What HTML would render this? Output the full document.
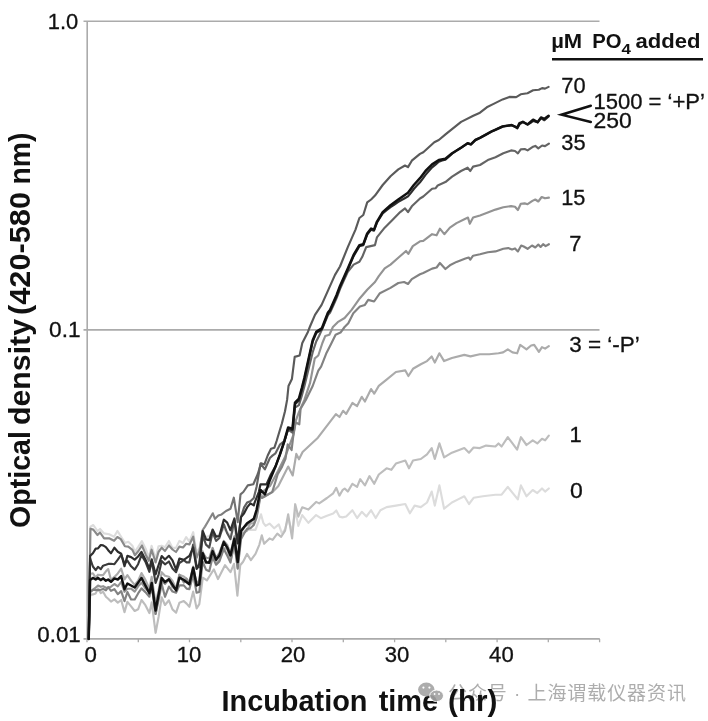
<!DOCTYPE html>
<html lang="zh"><head><meta charset="utf-8"><title>Growth curves</title>
<style>html,body{margin:0;padding:0;background:#fff}body{width:708px;height:721px;position:relative;overflow:hidden}</style></head>
<body>
<svg width="708" height="721" viewBox="0 0 708 721" style="position:absolute;left:0;top:0">
<rect width="708" height="721" fill="#fff"/>
<defs><linearGradient id="g70" gradientUnits="userSpaceOnUse" x1="205" y1="0" x2="268" y2="0"><stop offset="0" stop-color="#8a8a8a"/><stop offset="1" stop-color="#5a5a5a"/></linearGradient><linearGradient id="g35" gradientUnits="userSpaceOnUse" x1="170" y1="0" x2="255" y2="0"><stop offset="0" stop-color="#3a3a3a"/><stop offset="1" stop-color="#646464"/></linearGradient></defs>
<g stroke="#ababab" stroke-width="1.6" fill="none">
<path d="M83.5,21.2 H599.5 M83.5,329.9 H599.5 M83.5,638.9 H599.8 M87.2,20.4 V639.7"/>
<path d="M87.0,638.9 v3.4 M138.3,638.9 v3.4 M189.5,638.9 v3.4 M240.8,638.9 v3.4 M292.0,638.9 v3.4 M343.3,638.9 v3.4 M394.6,638.9 v3.4 M445.8,638.9 v3.4 M497.1,638.9 v3.4 M548.3,638.9 v3.4 M599.6,638.9 v3.4" stroke-width="1.3"/>
</g>
<g fill="none" stroke-linejoin="round" stroke-linecap="round">
<path d="M88.7,638.9 L90.4,526.7 93.3,525.0 97.5,531.0 100.0,529.0 104.1,533.4 109.1,534.3 114.1,536.8 117.4,530.9 120.8,536.3 124.9,542.9 128.3,541.8 132.4,545.7 134.9,551.8 138.4,546.7 141.9,541.2 146.0,549.5 148.8,557.5 151.6,545.8 155.6,558.8 158.5,546.2 161.7,545.7 165.0,547.2 168.9,541.0 172.5,547.9 176.0,547.9 179.4,540.9 183.0,543.0 186.2,537.1 189.4,541.7 193.2,532.2 196.6,552.8 199.5,548.0 202.7,534.0 206.0,537.0 209.3,536.0 212.6,531.0 216.0,537.0 219.4,534.0 223.8,529.0 227.2,532.0 230.5,536.0 234.4,528.0 237.7,548.0 241.0,528.0 245.0,531.0 249.3,529.8 255.5,529.8 258.6,521.3 261.0,514.3 263.3,522.8 265.6,525.9 269.5,523.6 274.2,528.3 278.8,524.4 282.0,533.7 285.1,529.0 288.2,518.2 292.1,532.1 295.2,510.4 298.3,525.9 302.2,515.1 308.4,522.8 316.1,515.1 320.8,518.2 327.0,515.8 333.2,513.5 336.3,510.4 339.4,516.6 342.5,517.4 346.2,516.5 352.4,510.2 357.1,518.0 361.8,511.8 366.4,516.5 371.1,510.2 375.7,518.0 380.4,510.2 386.6,507.1 395.9,505.6 405.3,504.0 409.9,513.3 414.6,505.6 420.8,507.1 427.0,502.5 431.7,491.6 434.8,505.6 439.4,485.4 444.1,508.7 451.9,502.5 458.1,499.4 464.3,496.3 469.0,504.0 473.6,497.8 482.9,496.3 495.4,494.7 501.6,494.7 507.8,486.9 514.0,494.7 517.8,499.4 520.9,485.4 526.5,496.3 532.7,490.0 537.3,493.1 542.0,488.5 545.1,491.6 548.8,488.5" stroke="#dcdcdc" stroke-width="2.15"/>
<path d="M88.7,638.9 L90.1,595.0 92.9,594.4 95.7,593.4 98.0,588.4 100.8,593.1 103.1,591.8 105.9,596.8 108.2,598.8 111.0,601.6 114.4,599.4 117.8,602.6 121.2,600.0 124.5,612.1 127.4,601.9 131.1,606.4 134.7,611.0 138.1,609.3 141.5,600.0 145.4,605.2 149.4,613.1 151.7,602.4 155.6,632.8 158.6,616.9 161.7,597.4 165.0,605.0 168.9,600.3 172.5,609.4 176.1,612.7 179.4,602.8 183.8,601.1 186.6,603.6 189.4,606.8 193.2,591.6 196.6,608.4 199.3,604.1 202.8,577.7 206.9,580.4 213.9,569.3 218.0,579.1 225.0,565.2 230.5,572.1 234.0,563.8 237.4,595.7 240.2,565.2 243.1,561.7 247.0,553.9 250.9,560.1 255.5,553.9 259.4,544.6 261.8,535.3 264.1,543.8 269.5,538.4 272.6,539.9 277.3,533.7 281.2,536.8 285.1,530.6 288.2,514.3 292.1,538.4 295.2,504.2 298.3,516.6 302.2,507.3 308.4,509.6 316.1,501.9 319.2,503.4 327.0,498.0 333.2,493.3 336.3,487.9 339.4,495.6 342.5,490.2 344.7,488.5 347.8,491.6 352.4,483.8 357.1,486.9 360.2,479.2 364.9,485.4 369.5,476.1 374.2,483.8 378.8,474.5 386.6,468.3 391.3,469.8 395.9,463.6 405.3,460.5 409.0,468.3 413.0,460.5 420.8,459.0 427.0,454.3 431.7,448.1 434.8,459.0 439.4,443.4 444.1,457.4 451.9,452.7 464.3,448.1 469.0,452.7 473.6,447.5 479.8,448.1 486.1,445.6 495.4,446.5 498.5,443.4 501.6,446.5 507.8,437.2 512.5,443.4 517.1,449.6 520.9,437.2 526.5,445.0 532.7,440.3 537.3,443.4 542.0,438.8 545.1,440.3 548.8,435.7" stroke="#bdbdbd" stroke-width="2.15"/>
<path d="M88.7,638.9 L90.1,574.0 92.9,573.3 95.7,577.5 98.0,574.7 100.8,575.1 103.1,575.1 105.9,571.3 108.2,569.1 111.0,580.0 114.4,576.9 117.8,573.4 121.2,568.7 124.5,579.3 127.4,575.1 131.1,580.6 134.7,584.9 138.1,580.6 141.5,573.1 145.4,579.9 149.4,588.8 151.7,576.8 155.6,603.6 158.6,590.4 161.7,572.2 165.0,575.7 168.9,576.7 172.5,581.0 176.1,588.8 179.4,574.8 183.8,576.6 186.6,578.9 189.4,582.5 193.2,566.6 196.6,583.8 199.3,583.8 202.7,551.4 206.0,563.1 209.3,561.4 212.6,552.7 216.1,563.3 219.4,559.9 223.8,548.1 227.2,549.0 230.5,560.6 234.4,545.0 237.7,568.2 241.0,534.5 244.1,532.4 247.1,530.5 250.4,523.1 253.8,523.6 256.6,515.8 260.5,494.1 263.8,497.0 272.8,491.7 278.2,486.3 288.2,466.5 292.7,475.5 296.3,453.9 299.0,459.3 302.6,452.0 317.9,437.7 335.9,414.2 339.5,417.0 343.1,410.8 346.2,413.9 352.4,403.0 357.1,406.1 361.8,396.8 364.9,401.5 371.1,389.0 374.2,393.7 378.8,385.9 386.6,379.7 395.9,372.0 405.3,370.4 408.4,376.0 413.0,368.8 420.8,364.2 427.0,361.1 431.7,356.4 434.8,362.6 439.4,353.3 444.1,361.1 451.9,358.0 464.3,354.9 470.5,356.4 479.8,354.2 489.2,354.2 498.5,353.3 503.1,352.4 507.8,349.3 512.5,352.4 517.1,353.3 520.2,344.9 526.5,349.3 531.1,345.5 534.2,344.9 538.9,351.8 542.0,347.1 545.1,348.6 548.8,346.2" stroke="#ababab" stroke-width="2.15"/>
<path d="M88.7,638.9 L90.1,592.0 92.9,589.6 95.7,587.6 98.0,585.5 100.8,586.8 103.1,586.2 105.9,587.7 108.2,587.7 111.0,586.7 114.4,584.0 117.8,586.3 121.2,581.9 124.5,591.8 127.4,588.8 131.1,588.7 134.7,591.6 138.1,586.3 141.5,582.7 145.4,588.4 149.4,592.8 151.7,583.3 155.6,613.9 158.6,596.0 161.7,581.5 165.0,584.0 168.9,579.3 172.5,587.2 176.1,589.6 179.4,574.7 183.8,582.6 186.6,578.6 189.4,584.3 193.2,567.8 196.6,584.0 199.3,579.8 202.7,552.7 206.0,557.7 209.3,558.2 212.6,547.9 216.1,558.2 219.4,552.9 223.8,540.9 227.2,545.0 230.5,553.7 234.4,536.3 237.7,561.2 241.0,532.0 244.1,527.2 247.1,524.9 250.4,521.5 253.8,519.8 256.6,511.6 260.5,490.7 262.0,492.0 270.0,486.0 278.0,471.0 285.0,457.0 290.0,444.0 293.0,436.0 296.0,420.0 299.0,412.0 304.4,399.9 310.0,383.2 314.8,358.3 318.3,355.5 322.4,343.0 325.2,336.1 329.4,334.7 332.9,327.0 337.7,322.2 344.6,318.0 351.6,309.9 359.9,298.2 367.2,289.8 375.0,282.0 378.8,276.2 384.7,268.4 390.5,264.6 398.3,257.8 406.0,251.0 408.3,253.9 412.8,246.1 420.0,241.3 423.3,240.9 432.1,234.2 436.6,235.3 439.9,228.7 444.3,234.2 449.9,227.6 456.5,223.1 465.4,218.7 468.0,217.6 469.8,223.8 473.1,217.6 480.0,215.4 487.8,212.5 495.5,209.6 503.3,207.3 511.1,206.1 515.0,206.7 517.9,210.0 520.8,203.8 524.7,203.4 527.6,204.2 532.4,200.9 535.3,199.5 538.3,201.5 541.7,197.0 545.0,198.3 548.9,197.6" stroke="#939393" stroke-width="2.15"/>
<path d="M88.7,638.9 L90.1,592.0 92.9,590.0 95.7,590.0 98.0,590.1 100.8,589.7 103.1,588.9 105.9,590.4 108.2,587.2 111.0,590.8 114.4,589.2 117.8,594.2 121.2,591.1 124.5,601.2 127.4,592.0 131.1,599.4 134.7,599.5 138.1,593.4 141.5,588.4 145.4,592.1 149.4,596.7 151.7,585.8 155.6,614.0 158.6,600.0 161.7,583.9 165.0,596.8 168.9,586.6 172.5,591.5 176.1,592.7 179.4,585.3 183.8,585.4 186.6,588.6 189.4,589.1 193.2,574.8 196.6,592.7 199.3,592.0 202.7,561.7 206.0,569.7 209.3,571.2 212.6,557.1 216.1,564.7 219.4,561.4 223.8,549.0 227.2,555.5 230.5,562.6 234.4,542.2 237.7,568.6 241.0,539.3 244.1,533.5 247.1,528.9 250.4,528.2 253.8,525.0 256.6,517.6 260.5,496.4 262.0,498.0 264.4,496.5 272.2,492.1 277.7,474.3 282.1,466.6 285.5,458.8 287.7,444.4 291.6,450.0 293.2,436.7 295.6,422.5 299.3,424.3 300.6,408.7 305.8,399.9 312.7,386.0 318.3,370.7 321.1,366.6 326.6,352.7 330.8,344.4 335.6,334.7 340.5,332.6 344.6,327.0 348.3,323.2 353.3,313.2 359.9,306.5 364.9,304.9 368.2,299.9 374.1,301.5 379.9,293.2 390.5,287.9 398.3,283.0 404.1,282.0 408.0,284.0 411.8,279.1 420.0,274.3 423.3,273.0 432.1,268.6 436.6,267.5 439.9,263.0 445.4,269.0 449.9,265.3 456.5,261.9 465.4,258.6 468.7,257.5 470.3,259.7 473.1,255.7 480.0,254.3 487.8,252.3 495.5,251.4 503.3,248.8 508.2,248.1 512.0,249.4 515.0,248.4 517.9,251.4 521.2,245.5 523.7,246.5 527.6,248.8 532.0,245.5 535.3,247.5 538.3,244.6 540.6,246.9 543.1,244.2 545.6,246.1 548.9,244.2" stroke="#828282" stroke-width="2.15"/>
<path d="M88.7,638.9 L90.1,558.3 92.9,566.5 95.7,570.1 98.0,566.8 100.8,569.2 103.1,565.7 105.9,564.8 108.2,563.9 111.0,563.8 114.4,564.2 117.8,559.7 121.2,554.8 124.5,563.9 127.4,560.6 131.1,566.3 134.7,569.6 138.1,564.2 141.5,555.2 145.4,561.7 149.4,571.8 151.7,560.7 155.6,582.9 158.6,574.6 161.7,561.0 165.0,564.3 168.9,561.5 172.5,568.4 176.1,572.2 179.4,563.0 183.8,560.1 186.6,562.3 189.4,562.3 193.2,544.6 196.6,566.4 199.3,567.4 202.7,535.3 206.0,544.6 209.3,547.6 212.6,532.3 216.1,540.9 219.4,538.0 223.8,524.2 227.2,533.3 230.5,539.1 234.4,520.3 237.7,543.4 241.0,517.1 244.1,507.4 247.1,502.6 250.4,501.2 253.8,497.9 256.6,486.8 260.5,463.5 264.9,469.3 269.9,458.0 272.7,455.4 275.5,453.3 279.9,444.7 284.3,441.2 288.1,429.6 292.5,432.7 295.0,407.5 298.9,405.1 301.8,395.6 304.4,386.2 309.3,366.0 312.7,352.2 316.2,341.5 319.0,336.0 321.8,329.9 323.8,325.1 328.0,315.1 330.0,312.9 333.3,305.5 336.6,298.0 340.0,289.1 343.9,280.4 347.8,271.8 353.6,264.6 359.4,261.7 362.3,256.8 366.2,247.1 375.0,245.1 376.9,237.4 384.7,227.7 392.4,219.9 400.2,212.1 405.0,208.3 408.0,212.1 411.8,206.3 420.0,198.5 423.3,196.5 432.1,188.8 435.5,188.3 437.7,185.5 445.4,182.1 452.1,176.6 461.0,171.0 467.6,167.7 470.3,171.0 473.1,166.6 480.0,165.0 487.8,160.1 495.5,157.2 503.3,153.3 511.1,150.4 515.0,151.0 517.9,153.3 520.8,149.4 524.7,149.0 527.6,150.4 532.4,147.1 535.3,145.9 538.3,148.4 542.1,145.5 545.0,146.1 548.9,143.6" stroke="url(#g35)" stroke-width="2.15"/>
<path d="M88.7,638.9 L90.4,528.7 93.3,529.6 97.5,535.0 100.0,532.5 104.1,538.3 109.1,538.3 114.1,540.8 117.4,537.0 120.8,539.1 124.9,546.2 128.3,546.6 132.4,549.9 134.9,555.2 138.4,551.0 141.9,545.5 146.0,555.2 148.8,560.8 151.6,549.7 155.6,562.5 158.5,552.0 161.7,547.7 165.0,551.0 168.9,545.5 172.5,549.5 176.0,552.0 179.4,546.6 183.0,547.5 186.2,543.8 189.4,544.4 193.2,536.7 196.6,557.7 199.5,551.0 202.7,530.0 205.0,526.6 208.3,521.0 212.8,513.3 215.0,518.8 218.3,515.5 221.6,514.4 226.0,511.0 230.5,508.8 233.8,497.7 237.7,522.1 240.5,494.4 243.3,492.0 247.8,485.4 253.3,484.3 257.7,474.3 261.1,463.3 264.4,464.4 267.7,455.5 271.0,448.8 274.4,447.7 276.6,441.0 279.9,430.0 281.8,423.7 285.0,411.2 287.1,399.9 288.5,386.0 291.9,379.1 294.7,356.9 299.6,355.5 302.3,343.0 307.9,331.9 310.0,326.5 315.0,314.8 321.6,304.9 328.3,289.9 335.0,274.9 340.0,266.5 347.8,247.1 355.5,229.6 359.4,218.0 363.3,215.0 367.2,202.4 371.1,199.5 375.0,195.6 382.7,185.0 390.5,176.2 398.3,169.4 405.0,165.5 408.0,167.1 411.8,160.7 420.0,153.9 423.3,152.2 434.3,142.2 438.8,140.0 445.8,134.1 461.1,121.9 473.3,115.8 480.0,112.7 486.8,107.3 493.6,103.9 502.6,99.4 509.4,96.9 516.2,97.1 520.7,94.3 527.5,93.2 533.1,90.3 538.8,89.8 542.1,88.1 545.0,88.6 548.6,86.9" stroke="url(#g70)" stroke-width="2.15"/>
<path d="M88.7,638.9 L90.1,555.9 92.9,553.3 95.7,548.6 98.0,548.4 100.8,545.0 103.1,545.4 105.9,547.1 108.2,550.2 111.0,553.3 114.4,547.7 117.8,551.7 121.2,553.8 124.5,566.1 127.4,555.9 131.1,557.1 134.7,559.6 138.1,556.5 141.5,551.9 145.4,559.4 149.4,568.6 151.7,559.4 155.6,574.3 158.6,565.0 161.7,556.1 165.0,559.5 168.9,555.8 172.5,560.4 176.1,569.6 179.4,558.6 183.8,559.8 186.6,557.9 189.4,555.9 193.2,547.6 196.6,568.9 199.3,563.8 202.7,531.0 206.0,539.4 209.3,540.1 212.6,529.6 216.1,536.7 219.4,536.0 223.8,519.7 227.2,522.6 230.5,530.2 234.4,518.5 237.7,543.2 241.0,517.1 244.1,513.2 247.1,507.4 250.4,503.4 253.8,505.4 254.4,503.2 258.8,492.1 260.5,484.3 266.6,484.3 271.0,474.3 275.5,466.4 279.9,454.8 284.3,442.0 288.1,428.7 292.5,430.2 295.0,404.2 298.9,400.4 301.8,389.9 304.4,379.5 309.3,357.0 312.7,341.6 316.2,333.1 319.0,331.2 321.8,329.4 323.8,324.3 328.0,313.7 330.0,311.1 333.3,303.7 336.6,296.3 340.0,287.4 343.9,278.6 347.8,269.7 350.7,262.9 353.6,256.1 356.5,251.1 359.4,246.1 363.3,245.2 367.2,234.5 371.1,229.6 374.0,230.6 376.9,222.8 379.8,218.0 382.7,213.3 386.6,210.2 390.5,207.1 394.4,204.5 398.3,201.9 401.5,200.0 404.8,198.2 408.0,196.4 410.9,192.9 413.8,189.0 416.9,185.6 420.0,182.2 422.8,178.6 425.5,174.9 428.8,171.1 432.1,167.3 435.5,164.6 438.8,161.7 442.1,160.4 445.4,159.6 448.8,156.7 452.1,153.7 455.1,151.7 458.0,149.7 461.0,147.8 464.3,145.6 467.6,143.3 470.9,144.4 475.4,140.0 480.0,137.8 483.8,135.7 487.5,133.7 491.3,131.6 495.1,129.9 498.8,128.2 502.6,126.5 505.6,126.0 508.6,125.6 511.6,125.1 514.5,126.4 517.3,128.3 519.5,124.4 522.9,121.9 527.5,124.4 530.3,123.0 533.1,120.9 537.6,122.3 541.0,118.1 544.4,120.2 548.6,116.4" stroke="#2e2e2e" stroke-width="2.2"/>
<path d="M88.7,638.9 L90.1,580.0 92.9,577.9 95.7,579.5 98.0,577.9 100.8,580.1 103.1,578.4 105.9,580.7 108.2,579.5 111.0,581.8 114.4,578.4 117.8,579.5 121.2,576.2 124.5,589.2 127.4,583.5 134.7,587.5 141.5,577.9 149.4,593.1 151.7,582.9 155.6,610.6 161.7,578.0 165.0,582.1 168.9,579.3 176.1,590.4 179.4,577.7 183.8,579.9 189.4,584.3 193.2,567.7 196.6,585.4 199.3,584.3 202.7,553.3 206.0,562.2 209.3,562.7 212.6,551.1 216.1,559.8 219.4,555.4 223.8,542.1 227.2,547.6 230.5,555.4 234.4,538.8 237.7,562.0 241.0,531.0 247.1,523.2 253.8,518.8 256.6,509.8 260.5,489.9 264.9,494.3 269.9,479.9 275.5,466.6 279.9,454.4 284.3,441.1 288.1,427.5 292.5,428.7 295.0,402.5 298.9,398.5 301.8,388.0 304.4,377.7 309.3,355.5 312.7,340.2 316.2,331.9 321.8,328.4 323.8,323.2 328.0,312.5 330.0,309.9 336.6,294.9 340.0,285.9 347.8,268.4 353.6,254.9 359.4,245.1 363.3,244.2 367.2,233.5 371.1,228.6 374.0,229.6 376.9,221.8 382.7,212.1 390.5,205.3 398.3,199.5 408.0,192.7 413.8,185.0 420.0,178.2 425.5,171.0 432.1,164.4 438.8,160.0 445.4,158.8 452.1,153.3 461.0,147.8 467.6,143.3 470.9,144.4 475.4,140.0 480.0,137.8 491.3,131.6 502.6,126.5 511.6,125.1 517.3,127.6 519.5,123.1 522.9,121.8 527.5,124.5 533.1,119.7 537.6,122.2 541.0,117.5 544.4,118.8 548.6,115.8" stroke="#111111" stroke-width="2.5"/>
</g>
<g font-family="Liberation Sans, sans-serif" fill="#111">
<text x="78.3" y="28.6" font-size="21.3" stroke="#111" stroke-width="0.3" text-anchor="end" textLength="30.5" lengthAdjust="spacingAndGlyphs">1.0</text>
<text x="80.6" y="337.2" font-size="21.3" stroke="#111" stroke-width="0.3" text-anchor="end" textLength="31.5" lengthAdjust="spacingAndGlyphs">0.1</text>
<text x="80.8" y="642.4" font-size="21.3" stroke="#111" stroke-width="0.3" text-anchor="end" textLength="43.5" lengthAdjust="spacingAndGlyphs">0.01</text>
<text x="97.0" y="661.9" font-size="21.3" stroke="#111" stroke-width="0.3" text-anchor="end" textLength="12.4" lengthAdjust="spacingAndGlyphs">0</text>
<text x="201.4" y="661.9" font-size="21.3" stroke="#111" stroke-width="0.3" text-anchor="end" textLength="24.6" lengthAdjust="spacingAndGlyphs">10</text>
<text x="305.4" y="661.9" font-size="21.3" stroke="#111" stroke-width="0.3" text-anchor="end" textLength="24.6" lengthAdjust="spacingAndGlyphs">20</text>
<text x="409.3" y="661.9" font-size="21.3" stroke="#111" stroke-width="0.3" text-anchor="end" textLength="24.6" lengthAdjust="spacingAndGlyphs">30</text>
<text x="513.7" y="661.9" font-size="21.3" stroke="#111" stroke-width="0.3" text-anchor="end" textLength="24.6" lengthAdjust="spacingAndGlyphs">40</text>
<text x="561.3" y="93.0" font-size="21.3" stroke="#111" stroke-width="0.3" textLength="24.3" lengthAdjust="spacingAndGlyphs">70</text>
<text x="593.4" y="108.7" font-size="21.3" stroke="#111" stroke-width="0.3" textLength="111.5" lengthAdjust="spacingAndGlyphs">1500 = ‘+P’</text>
<text x="593.4" y="128.1" font-size="21.3" stroke="#111" stroke-width="0.3" textLength="38.3" lengthAdjust="spacingAndGlyphs">250</text>
<text x="561.3" y="149.8" font-size="21.3" stroke="#111" stroke-width="0.3" textLength="24.3" lengthAdjust="spacingAndGlyphs">35</text>
<text x="561.2" y="205.2" font-size="21.3" stroke="#111" stroke-width="0.3" textLength="24.2" lengthAdjust="spacingAndGlyphs">15</text>
<text x="569.2" y="251" font-size="21.3" stroke="#111" stroke-width="0.3" textLength="12.2" lengthAdjust="spacingAndGlyphs">7</text>
<text x="569.2" y="352.1" font-size="21.3" stroke="#111" stroke-width="0.3" textLength="70.5" lengthAdjust="spacingAndGlyphs">3 = ‘-P’</text>
<text x="569.6" y="442.1" font-size="21.3" stroke="#111" stroke-width="0.3" textLength="12.2" lengthAdjust="spacingAndGlyphs">1</text>
<text x="570.0" y="497.9" font-size="21.3" stroke="#111" stroke-width="0.3" textLength="12.8" lengthAdjust="spacingAndGlyphs">0</text>
</g>
<text x="448" y="700" font-family="Liberation Sans, Noto Sans CJK SC, sans-serif" font-size="19" fill="#adadad" textLength="238" lengthAdjust="spacing">公众号 · 上海谓载仪器资讯</text>
<g font-family="Liberation Sans, sans-serif" fill="#111" font-weight="bold">
<text x="551.2" y="48.2" font-size="20.2" textLength="31" lengthAdjust="spacingAndGlyphs">µM</text>
<text x="592.2" y="48.2" font-size="20.2" textLength="29.3" lengthAdjust="spacingAndGlyphs">PO</text>
<text x="621.6" y="53.6" font-size="14.8" textLength="9.4" lengthAdjust="spacingAndGlyphs">4</text>
<text x="635.4" y="48.2" font-size="20.2" textLength="65" lengthAdjust="spacingAndGlyphs">added</text>
<text x="221.5" y="710.5" font-size="29" textLength="146" lengthAdjust="spacingAndGlyphs">Incubation</text>
<text x="378.7" y="710.5" font-size="29" textLength="59.5" lengthAdjust="spacingAndGlyphs">time</text>
<text x="448" y="710.5" font-size="29" textLength="49.5" lengthAdjust="spacingAndGlyphs">(hr)</text>
<g transform="translate(29.5,0) rotate(-90)">
<text x="-528" y="0" font-size="29" textLength="97" lengthAdjust="spacingAndGlyphs">Optical</text>
<text x="-425" y="0" font-size="29" textLength="106" lengthAdjust="spacingAndGlyphs">density</text>
<text x="-315" y="0" font-size="29" textLength="123" lengthAdjust="spacingAndGlyphs">(420-580</text>
<text x="-184.5" y="0" font-size="29" textLength="52" lengthAdjust="spacingAndGlyphs">nm)</text>
</g>
</g>
<path d="M552,59.2 H703" stroke="#111" stroke-width="2.6" fill="none"/>
<path d="M590.8,105.7 L561.5,114.7 L590.8,122" stroke="#111" stroke-width="2.5" fill="none" stroke-linecap="round" stroke-linejoin="miter"/>
<g opacity="0.9">
<ellipse cx="426.3" cy="689.6" rx="8.2" ry="7" fill="#a4a4a4"/><ellipse cx="436.6" cy="695.8" rx="6.9" ry="5.8" fill="#a4a4a4" stroke="#fff" stroke-width="1"/>
<g fill="#fff"><circle cx="423.4" cy="687.6" r="1.1"/><circle cx="429.4" cy="687.6" r="1.1"/><circle cx="434.6" cy="694" r="0.9"/><circle cx="439" cy="694" r="0.9"/></g>
</g>
</svg>
</body></html>
